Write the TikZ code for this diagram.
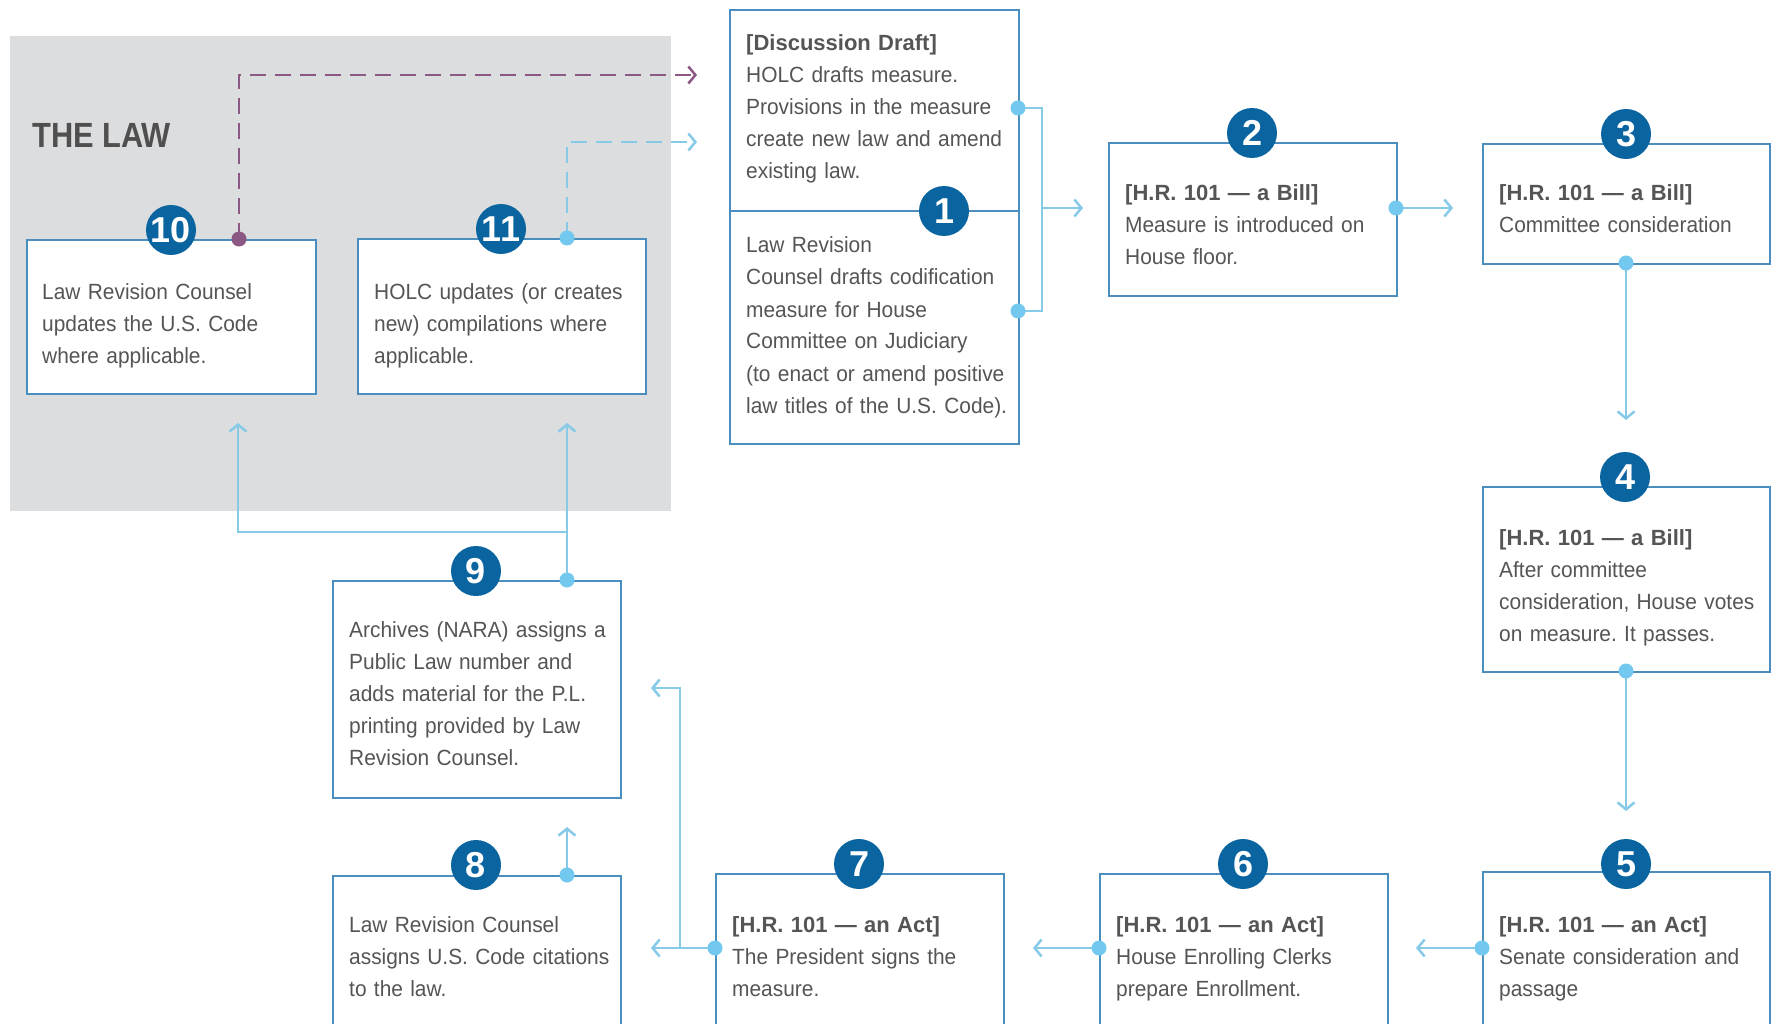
\documentclass[tikz,border=0pt]{standalone}
\usepackage{fontspec}
\setmainfont{Liberation Sans}
\newfontfamily\lawfont[FakeStretch=0.88]{Liberation Sans}
\newfontfamily\bodyfont[FakeStretch=0.95]{Liberation Sans}
\newfontfamily\hdrfont{Liberation Sans}
\usetikzlibrary{arrows.meta}
\definecolor{lawgray}{HTML}{DCDDDF}
\definecolor{boxblue}{HTML}{4A8EC0}
\definecolor{numblue}{HTML}{0A64A0}
\definecolor{lineblue}{HTML}{86CAE8}
\definecolor{dotblue}{HTML}{72C8EE}
\definecolor{lawpurple}{HTML}{8B5783}
\definecolor{textgray}{HTML}{555555}
\definecolor{titlegray}{HTML}{4F4F4F}
\newcommand{\hd}[1]{{\hdrfont\bfseries #1}}
\tikzset{
  stepbox/.style={draw=boxblue, line width=2pt, fill=white, rectangle, inner sep=0pt, anchor=north west},
  num/.style={circle, fill=numblue, minimum size=50pt, inner sep=0pt, text=white, font=\bfseries\fontsize{36}{36}\selectfont},
  txt/.style={anchor=base west, inner sep=0pt, align=left, text width=300pt, text=textgray, font=\bodyfont\fontsize{22}{32}\selectfont\frenchspacing},
  conn/.style={draw=lineblue, line width=2.5pt},
  arr/.style={-{Straight Barb[length=7pt,width=17pt]}},
  purpledash/.style={draw=lawpurple, line width=2.5pt, dash pattern=on 16pt off 9pt},
  bluedash/.style={draw=lineblue, line width=2.5pt, dash pattern=on 16pt off 9pt},
}
\begin{document}
\begin{tikzpicture}[x=1pt,y=-1pt]
\useasboundingbox (0,0) rectangle (1776,1024);
\clip (0,0) rectangle (1776,1024);
% background
\fill[lawgray] (10,36) rectangle (671,511);
\node[anchor=base west, inner sep=0pt, text=titlegray, font=\lawfont\bfseries\fontsize{35}{35}\selectfont] (title) at (32,148) {THE LAW};

% boxes
\node[stepbox, minimum width=289pt, minimum height=154pt] (b10) at (26,239) {};
\node[stepbox, minimum width=288pt, minimum height=155pt] (b11) at (357,238) {};
\node[stepbox, minimum width=289pt, minimum height=434pt] (b1) at (729,9) {};
\draw[boxblue, line width=2pt] (b1.west |- 0,211) -- (b1.east |- 0,211);
\node[stepbox, minimum width=288pt, minimum height=153pt] (b2) at (1108,142) {};
\node[stepbox, minimum width=287pt, minimum height=120pt] (b3) at (1482,143) {};
\node[stepbox, minimum width=287pt, minimum height=185pt] (b4) at (1482,486) {};
\node[stepbox, minimum width=287pt, minimum height=180pt] (b5) at (1482,871) {};
\node[stepbox, minimum width=288pt, minimum height=180pt] (b6) at (1099,873) {};
\node[stepbox, minimum width=288pt, minimum height=180pt] (b7) at (715,873) {};
\node[stepbox, minimum width=288pt, minimum height=180pt] (b8) at (332,875) {};
\node[stepbox, minimum width=288pt, minimum height=217pt] (b9) at (332,580) {};

% number circles
\node[num] (n10) at (171,230) {10};
\node[num] (n11) at (501,229) {11};
\node[num] (n1) at (944,211) {1};
\node[num] (n2) at (1252,133) {2};
\node[num] (n3) at (1626,134) {3};
\node[num] (n4) at (1625,477) {4};
\node[num] (n5) at (1626,864) {5};
\node[num] (n6) at (1243,864) {6};
\node[num] (n7) at (859,864) {7};
\node[num] (n8) at (476,865) {8};
\node[num] (n9) at (476,571) {9};

% texts
\node[txt] (t10) at (42,299) {Law Revision Counsel\\updates the U.S. Code\\where applicable.};
\node[txt] (t11) at (374,299) {HOLC updates (or creates\\new) compilations where\\applicable.};
\node[txt] (t1a) at (746,51) {\hd{[Discussion Draft]}\\HOLC drafts measure.\\Provisions in the measure\\create new law and amend\\existing law.};
\node[txt] (t1b) at (746,253) {Law Revision\\Counsel drafts codification\\measure for House\\Committee on Judiciary\\(to enact or amend positive\\law titles of the U.S. Code).};
\node[txt] (t2) at (1125,201) {\hd{[H.R. 101 — a Bill]}\\Measure is introduced on\\House floor.};
\node[txt] (t3) at (1499,201) {\hd{[H.R. 101 — a Bill]}\\Committee consideration};
\node[txt] (t4) at (1499,545) {\hd{[H.R. 101 — a Bill]}\\After committee\\consideration, House votes\\on measure. It passes.};
\node[txt] (t5) at (1499,932) {\hd{[H.R. 101 — an Act]}\\Senate consideration and\\passage};
\node[txt] (t6) at (1116,932) {\hd{[H.R. 101 — an Act]}\\House Enrolling Clerks\\prepare Enrollment.};
\node[txt] (t7) at (732,932) {\hd{[H.R. 101 — an Act]}\\The President signs the\\measure.};
\node[txt] (t8) at (349,932) {Law Revision Counsel\\assigns U.S. Code citations\\to the law.};
\node[txt] (t9) at (349,637) {Archives (NARA) assigns a\\Public Law number and\\adds material for the P.L.\\printing provided by Law\\Revision Counsel.};

% connector points
\coordinate (d1a) at (1018,108);
\coordinate (d1b) at (1018,311);
\coordinate (k1) at (1042,108);
\coordinate (k2) at (1042,311);
\coordinate (j1) at (1042,208);
\coordinate (a1) at (1083,208);
\coordinate (d2) at (1396,208);
\coordinate (a2) at (1453,208);
\coordinate (d3) at (1626,263);
\coordinate (a3) at (1626,420);
\coordinate (d4) at (1626,671);
\coordinate (a4) at (1626,811);
\coordinate (d5) at (1482,948);
\coordinate (a5) at (1416,948);
\coordinate (d6) at (1099,948);
\coordinate (a6) at (1033,948);
\coordinate (d7) at (715,948);
\coordinate (a7) at (651,948);
\coordinate (j7) at (680,948);
\coordinate (a7b) at (651,688);
\coordinate (d8) at (567,875);
\coordinate (a8) at (567,827);
\coordinate (d9) at (567,580);
\coordinate (j9) at (567,532);
\coordinate (a9r) at (567,423);
\coordinate (a9l) at (238,423);
\coordinate (d10) at (239,239);
\coordinate (a10) at (697,75);
\coordinate (d11) at (567,238);
\coordinate (a11) at (697,142);

% connectors
\draw[conn] (d1a) -- (k1) -- (k2) -- (d1b);
\draw[conn,arr] (j1) -- (a1);
\draw[conn,arr] (d2) -- (a2);
\draw[conn,arr] (d3) -- (a3);
\draw[conn,arr] (d4) -- (a4);
\draw[conn,arr] (d5) -- (a5);
\draw[conn,arr] (d6) -- (a6);
\draw[conn,arr] (d7) -- (a7);
\draw[conn,arr] (j7) |- (a7b);
\draw[conn,arr] (d8) -- (a8);
\draw[conn] (d9) -- (j9);
\draw[conn,arr] (j9) -- (a9r);
\draw[conn,arr] (j9) -| (a9l);
\draw[purpledash,arr] (d10) |- (a10);
\draw[bluedash,arr] (d11) |- (a11);

% dots
\foreach \d in {d1a,d1b,d2,d3,d4,d5,d6,d7,d8,d9,d11}
  \fill[dotblue] (\d) circle (7.5pt);
\fill[lawpurple] (d10) circle (7.5pt);
\end{tikzpicture}
\end{document}
